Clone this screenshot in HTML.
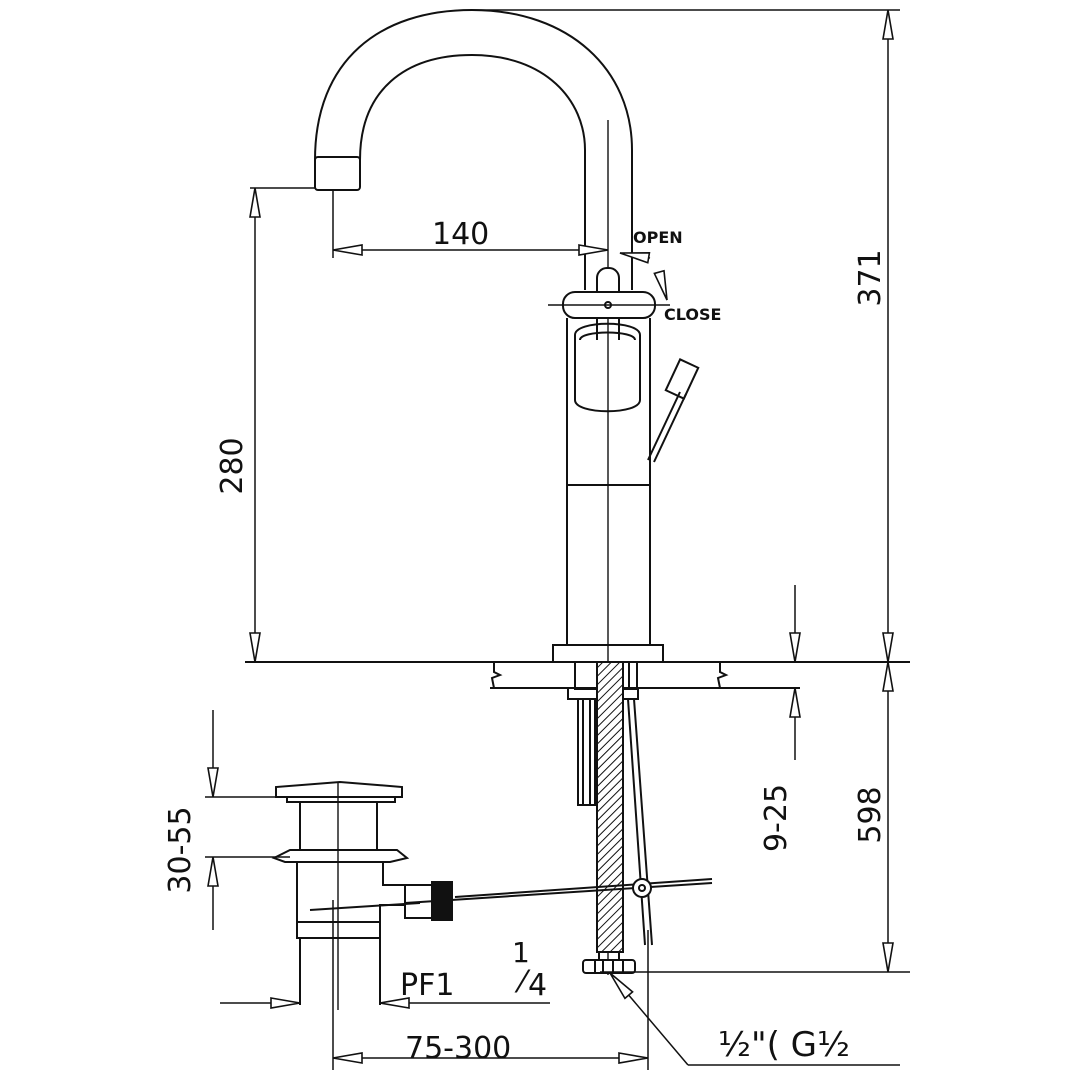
<!DOCTYPE html>
<html><head><meta charset="utf-8"><style>
html,body{margin:0;padding:0;background:#fff;}
svg{display:block;}
text{font-family:"DejaVu Sans","Liberation Sans",sans-serif;fill:#111;}
</style></head><body>
<svg width="1090" height="1090" viewBox="0 0 1090 1090" xmlns="http://www.w3.org/2000/svg">
<defs>
<marker id="a" markerUnits="userSpaceOnUse" markerWidth="32" markerHeight="12" refX="30" refY="6" orient="auto-start-reverse">
<path d="M1,1 L30,6 L1,11 Z" fill="#fff" stroke="#111" stroke-width="1.6"/>
</marker>
<pattern id="h" width="6" height="6" patternUnits="userSpaceOnUse" patternTransform="rotate(45)">
<rect width="6" height="6" fill="#fff"/><line x1="0" y1="0" x2="0" y2="6" stroke="#111" stroke-width="2"/>
</pattern>
</defs>
<g fill="none" stroke="#111" stroke-width="2">
<path d="M315,160 C315,60 380,10 472,10 C570,10 632,70 632,150 L632,290"/>
<path d="M360,160 C360,90 405,55 472,55 C545,55 585,100 585,150 L585,290"/>
<rect x="315" y="157" width="45" height="33" rx="3"/>
<line x1="608" y1="120" x2="608" y2="975" stroke-width="1.4"/>
<rect x="597" y="268" width="22" height="40" rx="10" fill="#fff"/>
<rect x="563" y="292" width="92" height="26" rx="12" fill="#fff"/>
<path d="M597,318 L597,340 M619,318 L619,340"/>
<circle cx="608" cy="305" r="3"/>
<line x1="548" y1="305" x2="670" y2="305" stroke-width="1.4"/>
<path d="M567,318 L567,645 M650,318 L650,645"/>
<path d="M575,335 C575,320 640,320 640,335 L640,400 C640,415 575,415 575,400 Z"/>
<path d="M580,340 C580,330 635,330 635,340"/>
<line x1="567" y1="485" x2="650" y2="485"/>
<path d="M648,460 L680,392 M654,462 L686,394"/>
<rect x="672" y="362" width="20" height="34" transform="rotate(25 682 379)"/>
<rect x="553" y="645" width="110" height="17"/>
<line x1="245" y1="662" x2="910" y2="662"/>
<line x1="490" y1="688" x2="800" y2="688"/>
<path d="M494,662 L494,672 L500,675 L492,678 L494,688"/>
<path d="M720,662 L720,672 L726,675 L718,678 L720,688"/>
<rect x="575" y="662" width="62" height="27"/>
<rect x="568" y="688" width="70" height="11"/>
<path d="M578,699 L578,805 L595,805 L595,699 M583,699 L583,805 M590,699 L590,805"/>
<rect x="597" y="662" width="26" height="290" fill="url(#h)"/>
<path d="M628,699 L645,945 M634,699 L652,945"/>
<path d="M629,662 L629,690 M637,662 L637,690"/>
<rect x="599" y="952" width="20" height="12"/>
<rect x="583" y="960" width="52" height="13" rx="3" fill="#fff"/>
<path d="M595,960 L595,973 M603,960 L603,973 M613,960 L613,973 M623,960 L623,973"/>
<line x1="405" y1="903" x2="712" y2="883"/>
<line x1="455" y1="897" x2="712" y2="879"/>
<circle cx="642" cy="888" r="9" fill="#fff"/>
<circle cx="642" cy="888" r="3"/>
<line x1="310" y1="910" x2="420" y2="903"/>
<path d="M276,797 L276,787 L340,782 L402,787 L402,797 Z"/>
<rect x="287" y="797" width="108" height="5"/>
<path d="M300,802 L300,850 M377,802 L377,850"/>
<path d="M274,858 L290,850 L397,850 L407,858 L390,862 L285,862 Z"/>
<path d="M297,862 L297,922 L380,922 L380,905 L405,905 L405,885 L383,885 L383,862"/>
<rect x="297" y="922" width="83" height="16"/>
<path d="M300,938 L300,1005 M380,938 L380,1005"/>
<rect x="405" y="885" width="30" height="33"/>
<rect x="432" y="882" width="20" height="38" fill="#111"/>
<line x1="338" y1="783" x2="338" y2="1010" stroke-width="1.4"/>
<g stroke-width="1.5">
<line x1="250" y1="188" x2="315" y2="188"/>
<line x1="255" y1="188" x2="255" y2="662" marker-start="url(#a)" marker-end="url(#a)"/>
<line x1="333" y1="190" x2="333" y2="258"/>
<line x1="333" y1="250" x2="608" y2="250" marker-start="url(#a)" marker-end="url(#a)"/>
<line x1="650" y1="258" x2="620" y2="253" marker-end="url(#a)"/>
<line x1="660" y1="275" x2="667" y2="300" marker-end="url(#a)"/>
<line x1="470" y1="10" x2="900" y2="10"/>
<line x1="888" y1="10" x2="888" y2="662" marker-start="url(#a)" marker-end="url(#a)"/>
<line x1="888" y1="662" x2="888" y2="972" marker-start="url(#a)" marker-end="url(#a)"/>
<line x1="600" y1="972" x2="910" y2="972"/>
<line x1="795" y1="585" x2="795" y2="662" marker-end="url(#a)"/>
<line x1="795" y1="760" x2="795" y2="688" marker-end="url(#a)"/>
<line x1="213" y1="710" x2="213" y2="797" marker-end="url(#a)"/>
<line x1="213" y1="930" x2="213" y2="857" marker-end="url(#a)"/>
<line x1="205" y1="797" x2="285" y2="797"/>
<line x1="205" y1="857" x2="290" y2="857"/>
<line x1="220" y1="1003" x2="300" y2="1003" marker-end="url(#a)"/>
<line x1="550" y1="1003" x2="380" y2="1003" marker-end="url(#a)"/>
<line x1="333" y1="900" x2="333" y2="1070"/>
<line x1="648" y1="930" x2="648" y2="1070"/>
<line x1="333" y1="1058" x2="648" y2="1058" marker-start="url(#a)" marker-end="url(#a)"/>
<polyline points="688,1065 900,1065"/>
<line x1="688" y1="1065" x2="610" y2="973" marker-end="url(#a)"/>
</g>
</g>
<g font-size="30">
<text x="432" y="244">140</text>
<text x="232" y="476" transform="rotate(-90 232 466)" text-anchor="middle">280</text>
<text x="870" y="288" transform="rotate(-90 870 278)" text-anchor="middle">371</text>
<text x="870" y="825" transform="rotate(-90 870 815)" text-anchor="middle">598</text>
<text x="776" y="828" transform="rotate(-90 776 818)" text-anchor="middle">9-25</text>
<text x="180" y="860" transform="rotate(-90 180 850)" text-anchor="middle">30-55</text>
<text x="400" y="995">PF1</text>
<text x="512" y="962" font-size="28">1</text><text x="520" y="992" font-size="30">⁄</text><text x="528" y="995">4</text>
<text x="405" y="1058">75-300</text>
<text x="718" y="1056" font-size="34">½"( G½</text>
</g>
<g font-size="16" font-weight="bold">
<text x="633" y="243">OPEN</text>
<text x="664" y="320">CLOSE</text>
</g>
</svg>
</body></html>
